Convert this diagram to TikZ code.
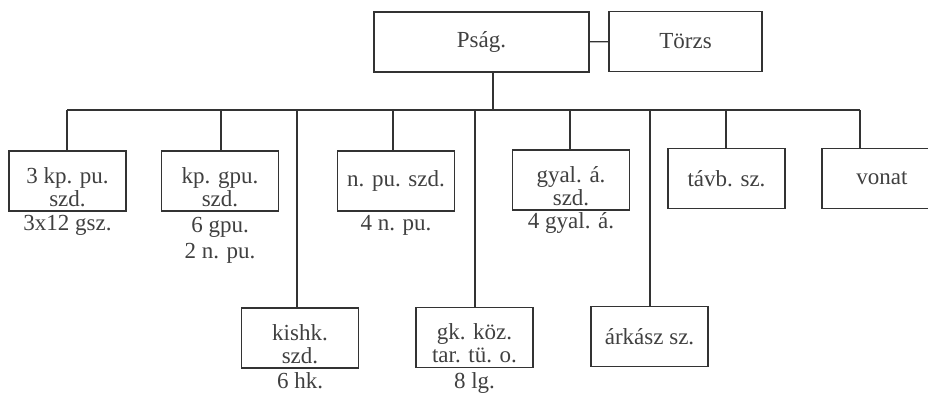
\documentclass[tikz,border=0pt]{standalone}
\usepackage{fontspec}
\setmainfont{Liberation Serif}
\newcommand\unitstrut{\rule{0pt}{28pt}}

\begin{document}
\begin{tikzpicture}[x=1pt,y=-1pt,line width=1.3pt,draw=black!80,
    unit/.style={draw=black!80,text=black!75,minimum width=117pt,minimum height=60pt,align=center,inner sep=2pt,font=\fontsize{23}{23}\selectfont},
    twoline/.style={inner ysep=0pt},
    strength/.style={text=black!75,align=center,inner sep=0pt,font=\fontsize{23}{26}\selectfont}]
    \useasboundingbox (0,0) rectangle (928,396);

    \node[unit,minimum width=215pt] (psag) at (481.5,42) {Pság.};
    \node[unit,minimum width=153pt] (torzs) at (685.5,41.5) {Törzs};

    \node[unit,twoline] (kpu) at (67.5,181) {\unitstrut 3 kp. pu.\\szd.};
    \node[unit,twoline] (gpu) at (220,181) {\unitstrut kp. gpu.\\szd.};
    \node[unit] (npu) at (396,181) {n. pu. szd.};
    \node[unit,twoline] (gyal) at (571,180) {\unitstrut gyal. á.\\szd.};
    \node[unit] (tavb) at (726.5,178.5) {távb. sz.};
    \node[unit,minimum width=120pt] (vonat) at (882,178.5) {vonat};
    \node[unit,twoline] (kishk) at (300,338) {\unitstrut kishk.\\szd.};
    \node[unit,twoline] (gk) at (474.5,337.5) {\unitstrut gk. köz.\\tar. tü. o.};
    \node[unit] (arkasz) at (649.5,336.5) {árkász sz.};

    \node[strength] (kpus) at (67.5,225) {3x12 gsz.};
    \node[strength] (gpus) at (220,240) {6 gpu.\\2 n. pu.};
    \node[strength] (npus) at (396,225) {4 n. pu.};
    \node[strength] (gyals) at (571,223) {4 gyal. á.};
    \node[strength] (kishks) at (300,381) {6 hk.};
    \node[strength] (gks) at (474.5,383) {8 lg.};

    \coordinate (hub) at (493,110);
    \coordinate (bkpu) at (67,110);
    \coordinate (bgpu) at (221,110);
    \coordinate (bkishk) at (297,110);
    \coordinate (bnpu) at (393,110);
    \coordinate (bgk) at (475,110);
    \coordinate (bgyal) at (570,110);
    \coordinate (barkasz) at (650,110);
    \coordinate (btavb) at (726,110);
    \coordinate (bvonat) at (860,110);

    \draw (psag) -- (torzs);
    \draw (hub |- psag.south) -- (hub);
    \draw (bkpu) -- (bvonat);
    \draw (bkpu) -- (kpu.north -| bkpu);
    \draw (bgpu) -- (gpu.north -| bgpu);
    \draw (bkishk) -- (kishk.north -| bkishk);
    \draw (bnpu) -- (npu.north -| bnpu);
    \draw (bgk) -- (gk.north -| bgk);
    \draw (bgyal) -- (gyal.north -| bgyal);
    \draw (barkasz) -- (arkasz.north -| barkasz);
    \draw (btavb) -- (tavb.north -| btavb);
    \draw (bvonat) -- (vonat.north -| bvonat);
\end{tikzpicture}
\end{document}
